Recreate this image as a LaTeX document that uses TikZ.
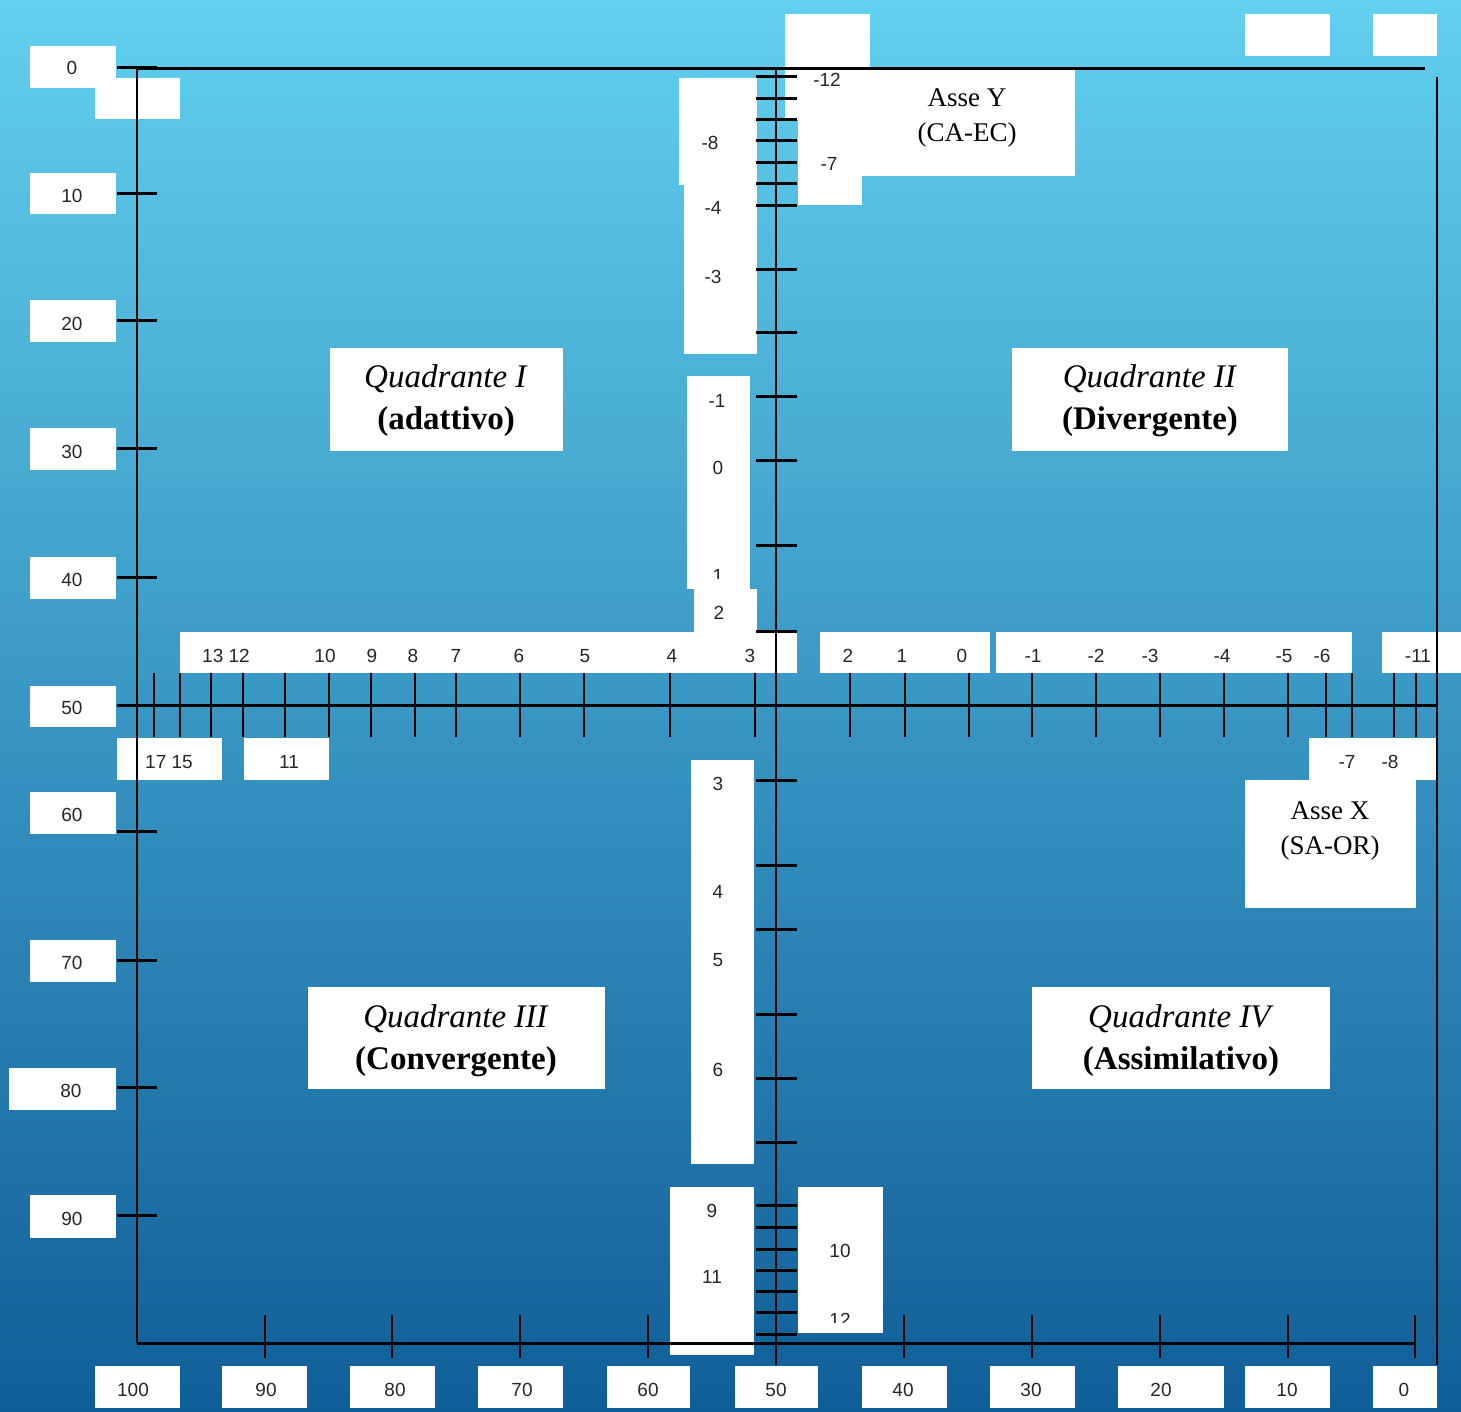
\documentclass[tikz,border=0pt]{standalone}
\usepackage{fontspec}
\setmainfont{Liberation Serif}
\newfontfamily\numfont{Liberation Sans}
\definecolor{bgtop}{RGB}{98,208,238}
\definecolor{bgbot}{RGB}{16,94,152}
\tikzset{
  wbox/.style={fill=white, draw=none},
  num/.style={font=\numfont\fontsize{19}{19}\selectfont, inner sep=0pt, text=black!85},
  quad/.style={font=\fontsize{33}{42}\selectfont, align=center, inner sep=0pt},
  axe/.style={font=\fontsize{27}{35}\selectfont, align=center, inner sep=0pt},
  axisline/.style={line width=3pt, black},
  thinaxis/.style={line width=2pt, black},
  tickline/.style={line width=2pt, black},
  thicktick/.style={line width=3pt, black},
}
\begin{document}
\begin{tikzpicture}[x=1pt,y=-1pt]
\useasboundingbox (0,0) rectangle (1461,1411);
\shade[top color=bgtop, bottom color=bgbot] (0,0) rectangle (1461,1411);

% ---------- white boxes ----------
% left labels
\fill[wbox] (30,46) rectangle (116,88);
\fill[wbox] (95,78) rectangle (180,119);
\fill[wbox] (30,173) rectangle (116,214);
\fill[wbox] (30,300) rectangle (116,342);
\fill[wbox] (30,428) rectangle (116,470);
\fill[wbox] (30,557) rectangle (116,599);
\fill[wbox] (30,686) rectangle (116,727);
\fill[wbox] (30,792) rectangle (116,834);
\fill[wbox] (30,940) rectangle (116,982);
\fill[wbox] (9,1068) rectangle (116,1110);
\fill[wbox] (30,1195) rectangle (116,1238);
% bottom labels
\foreach \a/\b in {95/180,222/307,350/435,478/563,607/690,735/818,862/947,990/1075,1118/1224,1245/1330,1373/1437}
  \fill[wbox] (\a,1366) rectangle (\b,1408);
% top boxes
\fill[wbox] (785,14) rectangle (870,67);
\fill[wbox] (1245,14) rectangle (1330,56);
\fill[wbox] (1373,14) rectangle (1437,56);
% top centre column
\fill[wbox] (679,78) rectangle (757,185);
\fill[wbox] (684,185) rectangle (757,354);
\fill[wbox] (687,376) rectangle (750,589);
\fill[wbox] (694,589) rectangle (757,632);
% Asse Y area
\fill[wbox] (785,70) rectangle (1075,120);
\fill[wbox] (798,70) rectangle (1075,176);
\fill[wbox] (798,120) rectangle (862,205);
% x labels row
\fill[wbox] (180,632) rectangle (797,673);
\fill[wbox] (820,632) rectangle (990,673);
\fill[wbox] (996,632) rectangle (1352,673);
\fill[wbox] (1382,632) rectangle (1461,673);
\fill[wbox] (117,738) rectangle (222,780);
\fill[wbox] (244,738) rectangle (329,780);
\fill[wbox] (1309,738) rectangle (1437,780);
\fill[wbox] (1245,780) rectangle (1416,908);
% lower centre column
\fill[wbox] (691,760) rectangle (754,1164);
\fill[wbox] (670,1187) rectangle (754,1355);
\fill[wbox] (798,1187) rectangle (883,1333);
% quadrants
\fill[wbox] (330,348) rectangle (563,451);
\fill[wbox] (1012,348) rectangle (1288,451);
\fill[wbox] (308,987) rectangle (605,1089);
\fill[wbox] (1032,987) rectangle (1330,1089);

% ---------- axes ----------
\coordinate (tl) at (137,68);
\coordinate (tr) at (1425,68);
\coordinate (bl) at (137,1343);
\coordinate (br) at (1415,1343);
\coordinate (rt) at (1437,77);
\coordinate (rb) at (1437,1365);
\coordinate (ct) at (776,68);
\coordinate (cb) at (776,1365);
\coordinate (ml) at (117,705);
\coordinate (mr) at (1437,705);
\draw[axisline] (tl) -- (tr);
\draw[thinaxis] (tl) -- (bl);
\draw[axisline] (bl) -- (br);
\draw[thinaxis] (rt) -- (rb);
\draw[thinaxis] (ct) -- (cb);
\draw[axisline] (ml) -- (mr);

% left ticks
\foreach \y in {67,193,320,448,577,831,960,1087,1215}
  \draw[thicktick] (117,\y) -- (157,\y);
% bottom ticks
\foreach \x in {265,392,520,648,904,1032,1160,1288,1415}
  \draw[tickline] (\x,1315) -- (\x,1358);
% centre x-axis ticks
\foreach \x in {153.6,179.5,211,243,285,329,371,415,456,520,584,670,755,849.5,905,968.5,1032,1096,1160,1224,1288,1325.6,1351.7,1393.8,1415.5}
  \draw[tickline] (\x,673) -- (\x,737);
% centre y-axis ticks
\foreach \y in {76,98,119,140,162,183,205,269,332,396,460,545,631,780,865,929,1014,1078,1142,1205,1227,1249,1270,1291,1312,1334}
  \draw[thicktick] (756,\y) -- (797,\y);

% ---------- labels ----------
% left
\node[num] (l0) at (72,68) {0};
\node[num] (l10) at (72,196) {10};
\node[num] (l20) at (72,324) {20};
\node[num] (l30) at (72,452) {30};
\node[num] (l40) at (72,580) {40};
\node[num] (l50) at (72,708) {50};
\node[num] (l60) at (72,815) {60};
\node[num] (l70) at (72,963) {70};
\node[num] (l80) at (71,1091) {80};
\node[num] (l90) at (72,1219) {90};
% bottom
\foreach \x/\t in {133/100,266/90,395/80,522/70,648/60,776/50,903/40,1031/30,1161/20,1287/10,1404/0}
  \node[num] (b\t) at (\x,1390) {\t};
% x-axis labels above
\node[num] (x13) at (226,656) {13 12};
\node[num] (x10) at (325,656) {10};
\node[num] (x9) at (372,656) {9};
\node[num] (x8) at (413,656) {8};
\node[num] (x7) at (456,656) {7};
\node[num] (x6) at (519,656) {6};
\node[num] (x5) at (585,656) {5};
\node[num] (x4) at (672,656) {4};
\node[num] (x3) at (750,656) {3};
\node[num] (x2) at (848,656) {2};
\node[num] (x1) at (902,656) {1};
\node[num] (x0) at (962,656) {0};
\node[num] (xm1) at (1033,656) {-1};
\node[num] (xm2) at (1096,656) {-2};
\node[num] (xm3) at (1150,656) {-3};
\node[num] (xm4) at (1222,656) {-4};
\node[num] (xm5) at (1284,656) {-5};
\node[num] (xm6) at (1322,656) {-6};
\node[num] (xm11) at (1418,656) {-11};
% x-axis labels below
\node[num] (x17) at (169,762) {17 15};
\node[num] (x11) at (289,762) {11};
\node[num] (xm7) at (1347,762) {-7};
\node[num] (xm8) at (1390,762) {-8};
% y labels
\node[num] (ym12) at (827,80) {-12};
\node[num] (ym8) at (710,143) {-8};
\node[num] (ym7) at (829,164) {-7};
\node[num] (ym4) at (713,208) {-4};
\node[num] (ym3) at (713,277) {-3};
\node[num] (ym1) at (717,401) {-1};
\node[num] (y0) at (718,468) {0};
\begin{scope}
  \clip (700,560) rectangle (740,578);
  \node[num] (y1) at (718,576) {1};
\end{scope}
\node[num] (y2) at (719,613) {2};
\node[num] (y3) at (718,784) {3};
\node[num] (y4) at (718,892) {4};
\node[num] (y5) at (718,960) {5};
\node[num] (y6) at (718,1070) {6};
\node[num] (y9) at (712,1211) {9};
\node[num] (y11) at (712,1277) {11};
\node[num] (y10) at (840,1251) {10};
\begin{scope}
  \clip (820,1300) rectangle (860,1322);
  \node[num] (y12) at (840,1320) {12};
\end{scope}
% axis titles
\node[axe] (asseY) at (967,118) {Asse Y\\(CA-EC)};
\node[axe] (asseX) at (1330,831) {Asse X\\(SA-OR)};
% quadrants
\node[quad] (q1) at (446,401) {\textit{Quadrante I}\\\textbf{(adattivo)}};
\node[quad] (q2) at (1150,401) {\textit{Quadrante II}\\\textbf{(Divergente)}};
\node[quad] (q3) at (456,1041) {\textit{Quadrante III}\\\textbf{(Convergente)}};
\node[quad] (q4) at (1181,1041) {\textit{Quadrante IV}\\\textbf{(Assimilativo)}};
\end{tikzpicture}
\end{document}
